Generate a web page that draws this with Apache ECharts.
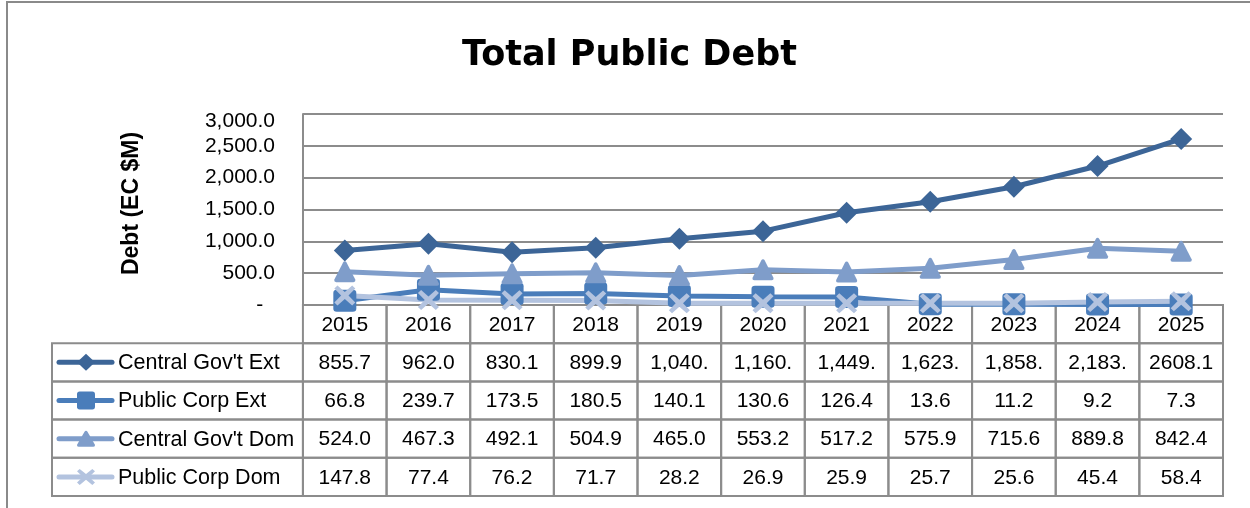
<!DOCTYPE html>
<html>
<head>
<meta charset="utf-8">
<title>Total Public Debt</title>
<script src="https://cdn.jsdelivr.net/npm/echarts@6/dist/echarts.min.js"></script>
<style>
  html, body { margin: 0; padding: 0; background: #ffffff; }
  #chart { width: 1250px; height: 508px; }
</style>
</head>
<body>
<div id="chart"></div>
<script>
// ---- data ----------------------------------------------------------------
const years = ['2015', '2016', '2017', '2018', '2019', '2020', '2021', '2022', '2023', '2024', '2025'];
const seriesNames = ["Central Gov't Ext", 'Public Corp Ext', "Central Gov't Dom", 'Public Corp Dom'];

// values as printed in the data table (EC $M)
const centralGovExt = ['855.7', '962.0', '830.1', '899.9', '1,040.', '1,160.', '1,449.', '1,623.', '1,858.', '2,183.', '2608.1'];
const publicCorpExt = ['66.8', '239.7', '173.5', '180.5', '140.1', '130.6', '126.4', '13.6', '11.2', '9.2', '7.3'];
const centralGovDom = ['524.0', '467.3', '492.1', '504.9', '465.0', '553.2', '517.2', '575.9', '715.6', '889.8', '842.4'];
const publicCorpDom = ['147.8', '77.4', '76.2', '71.7', '28.2', '26.9', '25.9', '25.7', '25.6', '45.4', '58.4'];

const yMin = 0;
const yMax = 3000;
const yStep = 500;

// ---- styling -------------------------------------------------------------
const FONT = '"Liberation Sans", Arial, sans-serif';
const GRID_GREY = '#8c8c8c';
const colors = ['#3C6597', '#4A7DBA', '#7F9DCA', '#B3C3DF'];

const markerPaths = [
  'M10,0 L20,10 L10,20 L0,10 Z',                                                     // diamond
  'M3,0 H17 Q20,0 20,3 V17 Q20,20 17,20 H3 Q0,20 0,17 V3 Q0,0 3,0 Z',                // rounded square
  'M10,0 Q11,0 11.6,1.2 L19.6,17.6 Q20,20 18,20 H2 Q0,20 0.4,17.6 L8.4,1.2 Q9,0 10,0 Z', // triangle
  'M3,0 L10,6.5 L17,0 L20,3 L13.5,10 L20,17 L17,20 L10,13.5 L3,20 L0,17 L6.5,10 L0,3 Z'  // cross
];
const markerSizes = [[22, 22], [23, 22], [21, 21], [21, 20]];
const keySizes = [[18, 17], [18, 18], [18, 16], [18, 16]];

const tableRows = [centralGovExt, publicCorpExt, centralGovDom, publicCorpDom];
const toNumber = s => parseFloat(s.replace(/,/g, ''));

function fmtTick(v) {
  if (v === 0) return '-  ';
  const s = v.toLocaleString('en-US', { minimumFractionDigits: 1, maximumFractionDigits: 1 });
  return v === yMax ? '{top|' + s + '}' : s;
}

// ---- data table cells ------------------------------------------------------
// each cell spans [c0, c1] on the table's x scale and one row on its y scale
const cells = [];
years.forEach((y, i) => cells.push({ c0: i, c1: i + 1, row: 0, text: y, key: -1 }));
tableRows.forEach((row, k) => {
  cells.push({ c0: -3, c1: 0, row: k + 1, text: seriesNames[k], key: k });
  row.forEach((t, i) => cells.push({ c0: i, c1: i + 1, row: k + 1, text: t, key: -1 }));
});

function renderCell(params, api) {
  const c = cells[params.dataIndex];
  const tl = api.coord([c.c0, c.row]);
  const br = api.coord([c.c1, c.row + 1]);
  const x = tl[0], y = tl[1], w = br[0] - tl[0], h = br[1] - tl[1];
  const cy = y + h / 2;
  const children = [{
    type: 'rect',
    shape: { x: x, y: y, width: w, height: h },
    style: { fill: 'none', stroke: GRID_GREY, lineWidth: 2 }
  }];
  if (c.key >= 0) {
    const k = c.key;
    const ks = keySizes[k];
    children.push({
      type: 'line',
      shape: { x1: x + 7, y1: cy, x2: x + 60, y2: cy },
      style: { stroke: colors[k], lineWidth: 5, lineCap: 'round' }
    });
    children.push({
      type: 'path',
      shape: { pathData: markerPaths[k], x: x + 34 - ks[0] / 2, y: cy - ks[1] / 2, width: ks[0], height: ks[1], layout: 'cover' },
      style: { fill: colors[k] }
    });
    children.push({
      type: 'text',
      style: { text: c.text, x: x + 66, y: cy + 1, align: 'left', verticalAlign: 'middle', fill: '#000', font: '21.5px ' + FONT }
    });
  } else {
    children.push({
      type: 'text',
      style: { text: c.text, x: x + w / 2, y: cy + 1, align: 'center', verticalAlign: 'middle', fill: '#000', font: '21px ' + FONT }
    });
  }
  return { type: 'group', children: children };
}

// ---- chart -----------------------------------------------------------------
const chart = echarts.init(document.getElementById('chart'), null, { renderer: 'canvas' });

const lineSeries = seriesNames.map((name, k) => ({
  type: 'line',
  name: name,
  xAxisIndex: 0,
  yAxisIndex: 0,
  data: tableRows[k].map(toNumber),
  symbol: 'path://' + markerPaths[k],
  symbolSize: markerSizes[k],
  showAllSymbol: true,
  lineStyle: { width: 5, color: colors[k] },
  itemStyle: { color: colors[k], borderWidth: 0 },
  clip: false,
  z: 3
}));

chart.setOption({
  animation: false,
  backgroundColor: '#ffffff',
  textStyle: { fontFamily: FONT },
  title: {
    text: 'Total Public Debt',
    left: 457,
    top: 33,
    textStyle: { fontFamily: '"DejaVu Sans", ' + FONT, fontWeight: 'bold', fontSize: 35, color: '#000' }
  },
  graphic: [{
    type: 'rect',
    silent: true,
    z: -1,
    shape: { x: 7, y: 2, width: 1300, height: 600 },
    style: { fill: 'none', stroke: '#8a8a8a', lineWidth: 2 }
  }],
  grid: [
    { left: 303, right: 27, top: 114, height: 191 },
    { left: 52, right: 27, top: 305, height: 191 }
  ],
  xAxis: [
    {
      gridIndex: 0,
      type: 'category',
      data: years,
      boundaryGap: true,
      axisLine: { show: false },
      axisTick: { show: false },
      axisLabel: { show: false },
      splitLine: { show: false }
    },
    { gridIndex: 1, type: 'value', min: -3, max: 11, show: false }
  ],
  yAxis: [
    {
      gridIndex: 0,
      type: 'value',
      min: yMin,
      max: yMax,
      interval: yStep,
      name: 'Debt (EC $M)',
      nameLocation: 'middle',
      nameRotate: 90,
      nameGap: 160,
      nameTextStyle: { fontFamily: FONT, fontWeight: 'bold', fontSize: 23, color: '#000', padding: [0, 0, 0, 12] },
      axisLine: { show: true, lineStyle: { color: GRID_GREY, width: 2 } },
      axisTick: { show: false },
      axisLabel: {
        margin: 28,
        fontSize: 21,
        color: '#000',
        formatter: fmtTick,
        rich: { top: { fontSize: 21, fontFamily: FONT, color: '#000', padding: [14, 0, 0, 0] } }
      },
      splitLine: { show: true, lineStyle: { color: GRID_GREY, width: 2 } }
    },
    { gridIndex: 1, type: 'value', min: 0, max: 5, inverse: true, show: false }
  ],
  series: [{
    type: 'custom',
    name: 'table',
    xAxisIndex: 1,
    yAxisIndex: 1,
    silent: true,
    z: 1,
    data: cells.map(c => [c.c0, c.c1, c.row]),
    encode: { x: [0, 1], y: 2 },
    renderItem: renderCell
  }].concat(lineSeries)
});
</script>
</body>
</html>
